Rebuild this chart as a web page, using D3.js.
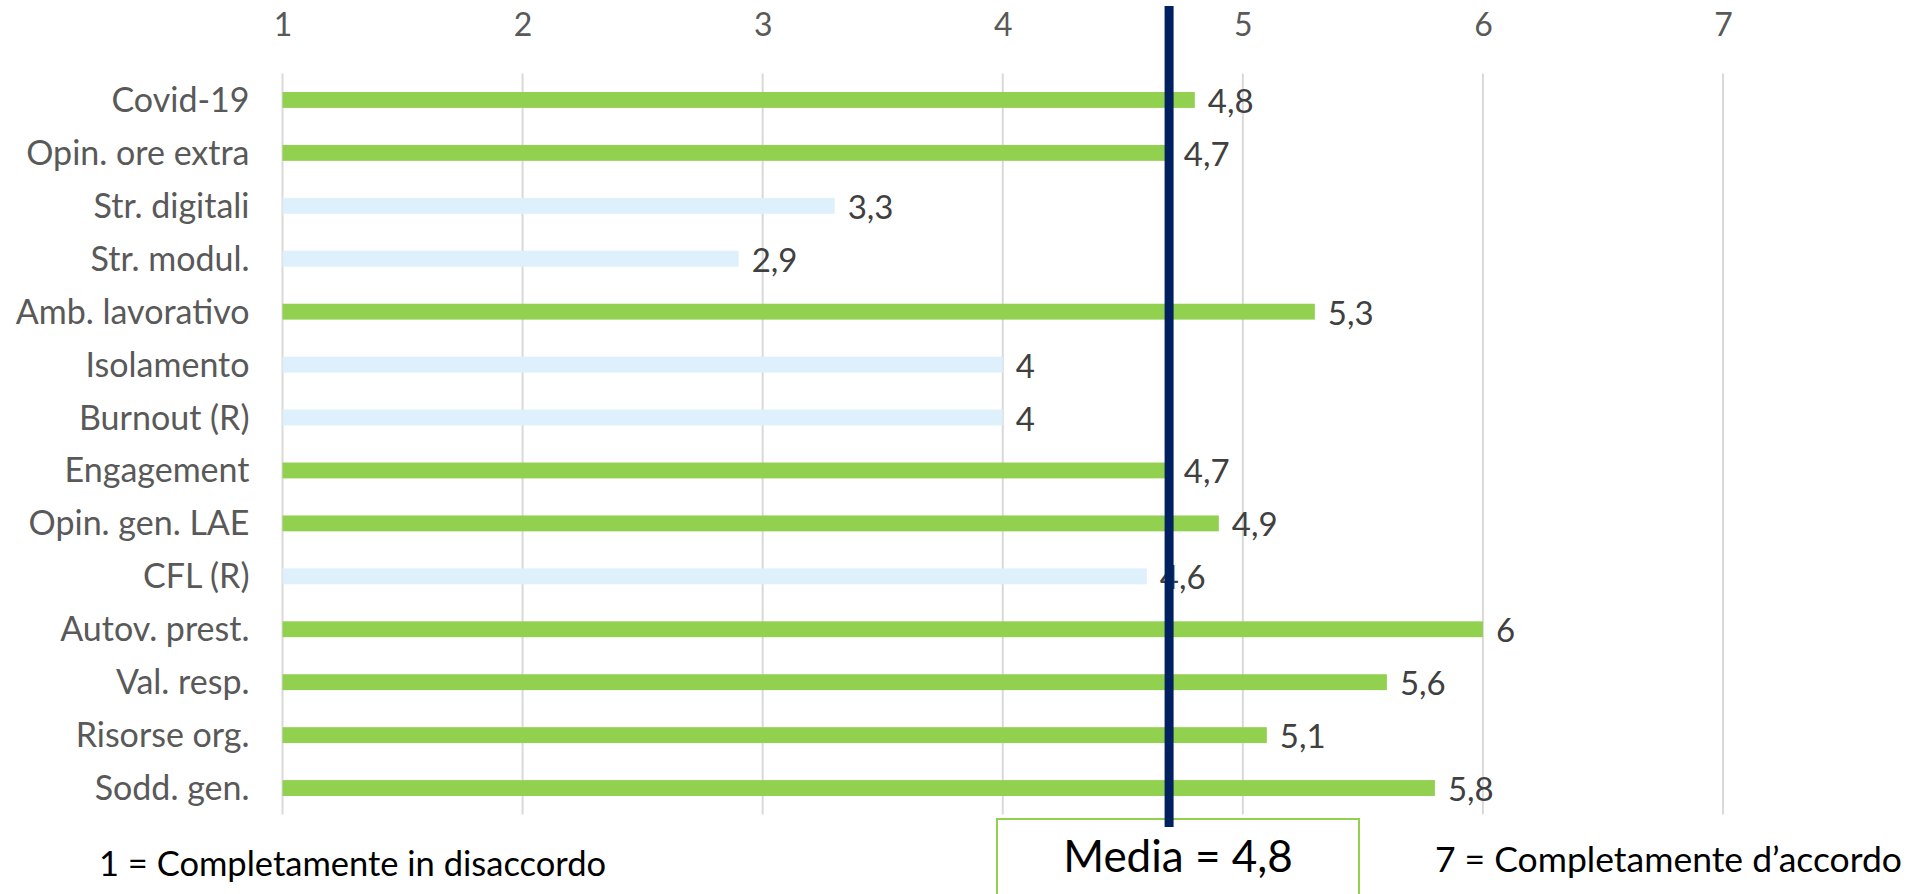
<!DOCTYPE html>
<html>
<head>
<meta charset="utf-8">
<script src="https://cdn.jsdelivr.net/npm/d3@7"></script>
<style>
  html, body { margin: 0; padding: 0; background: #fff; }
  svg { display: block; font-family: Lato, "Open Sans", sans-serif; }
</style>
</head>
<body>
<svg id="chart" width="1924" height="894"></svg>
<script>
// ---- data ----
const categories = ["Covid-19", "Opin. ore extra", "Str. digitali", "Str. modul.", "Amb. lavorativo",
  "Isolamento", "Burnout (R)", "Engagement", "Opin. gen. LAE", "CFL (R)",
  "Autov. prest.", "Val. resp.", "Risorse org.", "Sodd. gen."];
const values = [4.8, 4.7, 3.3, 2.9, 5.3, 4, 4, 4.7, 4.9, 4.6, 6, 5.6, 5.1, 5.8];
const groups = ["alto", "alto", "basso", "basso", "alto", "basso", "basso", "alto", "alto", "basso",
  "alto", "alto", "alto", "alto"];
const tickValues = [1, 2, 3, 4, 5, 6, 7];
const meanLabel = "Media = 4,8";
const noteLeft = "1 = Completamente in disaccordo";
const noteRight = "7 = Completamente d\u2019accordo";

// ---- setup ----
const svg = d3.select("#chart");
const colors = { alto: "#92D050", basso: "#DDF0FB" };
const itFmt = d3.formatLocale({ decimal: ",", thousands: ".", grouping: [3], currency: ["€", ""] }).format("~g");

const x = d3.scaleLinear().domain([1, 7]).range([282.5, 1723]);
const y = d3.scaleBand().domain(categories).range([73.5, 814.5]);
const barH = y.bandwidth() * 0.30;

const rows = categories.map((c, i) => ({ cat: c, val: values[i], grp: groups[i] }));

// gridlines
svg.append("g").selectAll("line").data(tickValues).join("line")
  .attr("x1", d => x(d)).attr("x2", d => x(d))
  .attr("y1", y.range()[0]).attr("y2", y.range()[1])
  .attr("stroke", "#D9D9D9").attr("stroke-width", 2);

// top axis labels
const topAxis = svg.append("g").attr("transform", "translate(0,36)")
  .call(d3.axisTop(x).tickValues(tickValues).tickSize(0).tickPadding(0).tickFormat(d3.format("d")));
topAxis.select(".domain").remove();
topAxis.selectAll("text").attr("font-size", 32).attr("fill", "#595959")
  .attr("font-family", "Lato, 'Open Sans', sans-serif").attr("dy", null).attr("y", 0);

// left axis labels
const leftAxis = svg.append("g").attr("transform", `translate(${x(1)},0)`)
  .call(d3.axisLeft(y).tickSize(0).tickPadding(33));
leftAxis.select(".domain").remove();
leftAxis.selectAll("text").attr("font-size", 34).attr("fill", "#595959")
  .attr("font-family", "Lato, 'Open Sans', sans-serif").attr("dy", null).attr("y", 12);

// bars
svg.append("g").selectAll("rect").data(rows).join("rect")
  .attr("x", x(1))
  .attr("y", d => y(d.cat) + y.bandwidth() / 2 - barH / 2)
  .attr("width", d => x(d.val) - x(1))
  .attr("height", barH)
  .attr("fill", d => colors[d.grp]);

// value labels
svg.append("g").selectAll("text").data(rows).join("text")
  .attr("x", d => x(d.val) + 13)
  .attr("y", d => y(d.cat) + y.bandwidth() / 2 + 13)
  .attr("font-size", 33).attr("fill", "#404040")
  .text(d => itFmt(d.val));

// mean box
const meanX = x(d3.mean(values));
svg.append("rect")
  .attr("x", 997).attr("y", 819).attr("width", 362).attr("height", 100)
  .attr("fill", "#fff").attr("stroke", "#92D050").attr("stroke-width", 2);

// mean line
svg.append("line")
  .attr("x1", meanX).attr("x2", meanX)
  .attr("y1", 6).attr("y2", 827)
  .attr("stroke", "#002060").attr("stroke-width", 9);

svg.append("text")
  .attr("x", 1178).attr("y", 872).attr("text-anchor", "middle")
  .attr("font-size", 44).attr("fill", "#000")
  .text(meanLabel);

// notes
svg.append("text").attr("x", 99).attr("y", 876)
  .attr("font-size", 34.5).attr("fill", "#000").text(noteLeft);
svg.append("text").attr("x", 1902).attr("y", 872).attr("text-anchor", "end")
  .attr("font-size", 35.5).attr("fill", "#000").text(noteRight);
</script>
</body>
</html>
